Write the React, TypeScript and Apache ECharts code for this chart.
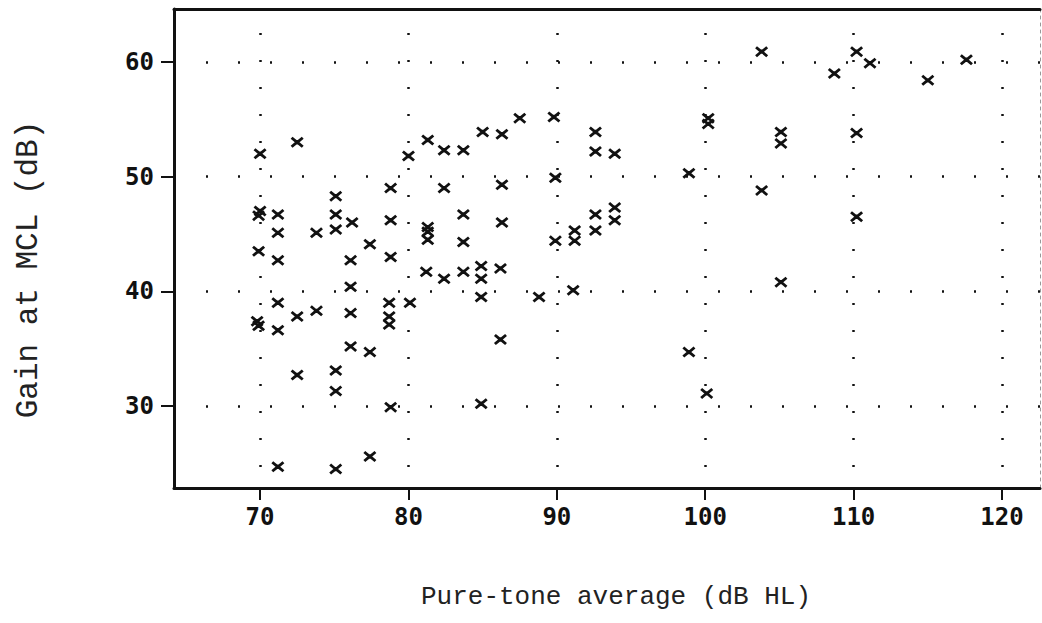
import React, { useEffect, useRef } from "react";
import * as echarts from "echarts";

// Pure-tone average (dB HL) for each listener
const ptaValues = [
  70.0, 70.0, 69.9, 69.9, 69.8, 69.9,
  71.2, 71.2, 71.2, 71.2, 71.2, 71.2,
  72.5, 72.5, 72.5,
  73.8, 73.8,
  75.1, 75.1, 75.1, 75.1, 75.1, 75.1,
  76.2, 76.1, 76.1, 76.1, 76.1,
  77.4, 77.4, 77.4,
  78.8, 78.8, 78.8, 78.7, 78.7, 78.7, 78.8,
  80.0, 80.1,
  81.3, 81.3, 81.3, 81.3, 81.2,
  82.4, 82.4, 82.4,
  83.7, 83.7, 83.7, 83.7,
  85.0, 84.9, 84.9, 84.9, 84.9,
  86.3, 86.3, 86.3, 86.2, 86.2,
  87.5, 88.8,
  89.8, 89.9, 89.9,
  91.2, 91.2, 91.1,
  92.6, 92.6, 92.6, 92.6,
  93.9, 93.9, 93.9,
  98.9, 98.9,
  100.2, 100.2, 100.1,
  103.8, 103.8,
  105.1, 105.1, 105.1,
  108.7,
  110.2, 110.2, 110.2,
  111.1, 115.0, 117.6,
];

// Gain at MCL (dB) for each listener
const gainValues = [
  52.0, 47.0, 46.6, 43.5, 37.4, 37.0,
  46.7, 45.1, 42.7, 39.0, 36.6, 24.7,
  53.0, 37.8, 32.7,
  45.1, 38.3,
  48.3, 46.7, 45.4, 33.1, 31.3, 24.5,
  46.0, 42.7, 40.4, 38.1, 35.2,
  44.1, 34.7, 25.6,
  49.0, 46.2, 43.0, 39.0, 37.8, 37.1, 29.9,
  51.8, 39.0,
  53.2, 45.6, 45.2, 44.5, 41.7,
  52.3, 49.0, 41.1,
  52.3, 46.7, 44.3, 41.7,
  53.9, 42.2, 41.1, 39.5, 30.2,
  53.7, 49.3, 46.0, 42.0, 35.8,
  55.1, 39.5,
  55.2, 49.9, 44.4,
  45.3, 44.4, 40.1,
  53.9, 52.2, 46.7, 45.3,
  52.0, 47.3, 46.2,
  50.3, 34.7,
  55.1, 54.6, 31.1,
  60.9, 48.8,
  53.9, 52.9, 40.8,
  59.0,
  60.9, 53.8, 46.5,
  59.9, 58.4, 60.2,
];

const xTicks = [70, 80, 90, 100, 110, 120];
const yTicks = [30, 40, 50, 60];
const xRange = [64.2, 122.56];
const yRange = [22.85, 64.62];
const xTitle = "Pure-tone average (dB HL)";
const yTitle = "Gain at MCL (dB)";

const crossSymbol =
  "path://M0,2 L2,0 L7,3.8 L12,0 L14,2 L9.6,5.5 L14,9 L12,11 L7,7.2 L2,11 L0,9 L4.4,5.5 Z M4.4,3.3 L9.6,3.3 L9.6,7.7 L4.4,7.7 Z";

export default function App() {
  const ref = useRef<HTMLDivElement>(null);

  useEffect(() => {
    document.body.style.margin = "0";
    const chart = echarts.init(ref.current!, null, { renderer: "svg" });
    const data = ptaValues.map((x, i) => [x, gainValues[i]]);
    const ink = "#111";

    chart.setOption({
      animation: false,
      backgroundColor: "#fff",
      grid: { left: 174, right: 2, top: 9, bottom: 135, containLabel: false },
      xAxis: [
        {
          type: "value",
          min: xRange[0],
          max: xRange[1],
          position: "bottom",
          axisLine: { show: true, onZero: false, lineStyle: { color: ink, width: 3 } },
          axisTick: {
            show: true,
            length: 12,
            customValues: xTicks,
            lineStyle: { color: ink, width: 2 },
          },
          axisLabel: {
            customValues: xTicks,
            margin: 17,
            fontFamily: "DejaVu Sans Mono",
            fontWeight: "bold",
            fontSize: 24,
            color: ink,
          },
          splitLine: {
            show: true,
            lineStyle: { color: ink, width: 2.5, type: [2, 25], dashOffset: 3 },
          },
          name: xTitle,
          nameLocation: "middle",
          nameGap: 96,
          nameTextStyle: {
            fontFamily: "Liberation Mono",
            fontSize: 26,
            color: "#222",
            padding: [0, 0, 0, 18],
          },
        },
        {
          type: "value",
          min: xRange[0],
          max: xRange[1],
          position: "top",
          axisLine: { show: true, onZero: false, lineStyle: { color: ink, width: 3 } },
          axisTick: { show: false },
          axisLabel: { show: false },
          splitLine: { show: false },
        },
      ],
      yAxis: [
        {
          type: "value",
          min: yRange[0],
          max: yRange[1],
          position: "left",
          axisLine: { show: true, onZero: false, lineStyle: { color: ink, width: 3 } },
          axisTick: {
            show: true,
            length: 13,
            customValues: yTicks,
            lineStyle: { color: ink, width: 2 },
          },
          axisLabel: {
            customValues: yTicks,
            margin: 20,
            fontFamily: "DejaVu Sans Mono",
            fontWeight: "bold",
            fontSize: 24,
            color: ink,
          },
          splitLine: {
            show: true,
            lineStyle: { color: ink, width: 2.5, type: [2, 30] },
          },
          name: yTitle,
          nameLocation: "middle",
          nameGap: 130,
          nameTextStyle: {
            fontFamily: "Liberation Mono",
            fontSize: 31,
            color: "#222",
            padding: [0, 42, 0, 0],
          },
        },
        {
          type: "value",
          min: yRange[0],
          max: yRange[1],
          position: "right",
          axisLine: {
            show: true,
            onZero: false,
            lineStyle: { color: "#999", width: 1, type: [3, 4] },
          },
          axisTick: { show: false },
          axisLabel: { show: false },
          splitLine: { show: false },
        },
      ],
      series: [
        {
          type: "scatter",
          xAxisIndex: 0,
          yAxisIndex: 0,
          data,
          symbol: crossSymbol,
          symbolSize: [13, 11],
          itemStyle: { color: ink, opacity: 1 },
        },
      ],
    });

    return () => chart.dispose();
  }, []);

  return (
    <div
      ref={ref}
      style={{ position: "absolute", left: 0, top: 0, width: 1042, height: 623 }}
    />
  );
}
